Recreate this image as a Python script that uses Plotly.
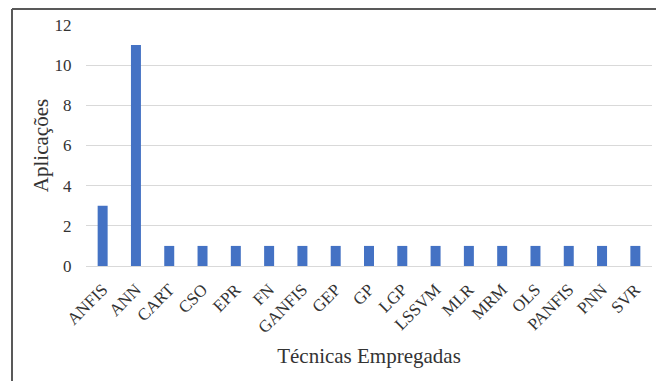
import plotly.graph_objects as go

categorias = ["ANFIS", "ANN", "CART", "CSO", "EPR", "FN", "GANFIS", "GEP", "GP",
              "LGP", "LSSVM", "MLR", "MRM", "OLS", "PANFIS", "PNN", "SVR"]
aplicacoes = [3, 11, 1, 1, 1, 1, 1, 1, 1, 1, 1, 1, 1, 1, 1, 1, 1]
y_ticks = [0, 2, 4, 6, 8, 10, 12]

W, H = 656, 381
L, R, T, B = 86, 4, 25, 115
pw, ph = W - L - R, H - T - B

def px_x(p):
    return (p - L) / pw

def px_y(q):
    return (H - B - q) / ph

FONT = "Liberation Serif"
TXT = "#333333"

fig = go.Figure(go.Bar(x=categorias, y=aplicacoes, marker_color="#4472C4",
                       marker_line_width=0))

fig.update_layout(
    width=W, height=H,
    margin=dict(l=L, r=R, t=T, b=B),
    paper_bgcolor="white", plot_bgcolor="white",
    bargap=0.7,
    font=dict(family=FONT, color=TXT),
    showlegend=False,
)
fig.update_xaxes(
    tickangle=-45, tickfont=dict(size=17, family=FONT, color=TXT),
    showgrid=False, showline=True, linecolor="#d9d9d9", linewidth=1,
    ticks="outside", ticklen=6, tickcolor="rgba(0,0,0,0)",
    title=dict(text="Técnicas Empregadas", font=dict(size=21, family=FONT, color=TXT), standoff=12),
)
fig.update_yaxes(
    range=[0, 12], tickvals=y_ticks, tickfont=dict(size=17, family=FONT, color=TXT),
    showgrid=True, gridcolor="#d9d9d9", gridwidth=1, zeroline=False,
    ticks="outside", ticklen=10, tickcolor="rgba(0,0,0,0)",
    title=dict(text="Aplicações", font=dict(size=21, family=FONT, color=TXT), standoff=0),
)

# outer frame (left and top edges visible in the reference)
x0, y0, x1, y1 = px_x(12), px_y(H + 2), px_x(W + 4), px_y(9)
fig.add_shape(type="line", xref="paper", yref="paper", x0=x0, x1=x0, y0=y0, y1=y1,
              line=dict(color="#595959", width=2))
fig.add_shape(type="line", xref="paper", yref="paper", x0=x0, x1=x1, y0=y1, y1=y1,
              line=dict(color="#595959", width=2))

fig.write_html("out.html")
